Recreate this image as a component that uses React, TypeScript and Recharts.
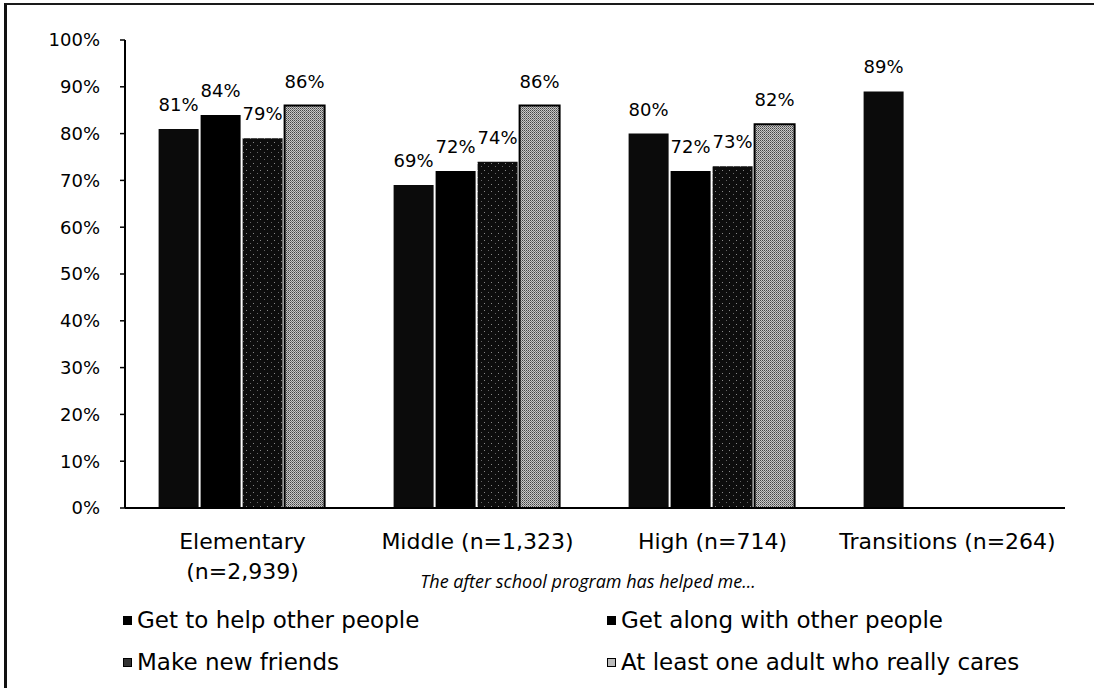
import { BarChart, Bar, XAxis, YAxis, LabelList } from "recharts";

const CATEGORIES = ["Elementary\n(n=2,939)", "Middle (n=1,323)", "High (n=714)", "Transitions (n=264)"];
const HELP_OTHERS = [81, 69, 80, 89];
const GET_ALONG = [84, 72, 72, null];
const NEW_FRIENDS = [79, 74, 73, null];
const CARING_ADULT = [86, 86, 82, null];
const Y_TICKS = [0, 10, 20, 30, 40, 50, 60, 70, 80, 90, 100];
const EDGE_TICKS = [0, 1, 2, 3, 4];
const SUBTITLE = "The after school program has helped me...";

const SERIES = [
  { key: "help", name: "Get to help other people", fill: "#0b0b0b" },
  { key: "along", name: "Get along with other people", fill: "#000000" },
  { key: "friends", name: "Make new friends", fill: "url(#speckle)" },
  { key: "adult", name: "At least one adult who really cares", fill: "url(#halftone)" },
];

const data = CATEGORIES.map((c, i) => ({
  category: c,
  help: HELP_OTHERS[i],
  along: GET_ALONG[i],
  friends: NEW_FRIENDS[i],
  adult: CARING_ADULT[i],
}));

const FONT = "'DejaVu Sans', Verdana, sans-serif";

function CategoryTick(props: any) {
  const { x, y, payload } = props;
  const lines = String(payload.value).split("\n");
  return (
    <text x={x} y={y} textAnchor="middle" fontFamily={FONT} fontSize={22} fill="#000">
      {lines.map((l, i) => (
        <tspan key={i} x={x} dy={i === 0 ? 41 : 30}>
          {l}
        </tspan>
      ))}
    </text>
  );
}

const pct = (v: any) => (v == null ? "" : `${v}%`);

export default function App() {
  return (
    <div style={{ position: "absolute", left: 0, top: 0, width: 1094, height: 688, background: "#fff" }}>
      <div
        style={{
          position: "absolute",
          left: 4,
          top: 3,
          right: 0,
          bottom: 0,
          borderTop: "2px solid #1a1a1a",
          borderLeft: "3px solid #111",
        }}
      />
      <div style={{ position: "absolute", left: 0, top: 0 }}>
        <BarChart
          width={1094}
          height={688}
          data={data}
          margin={{ top: 40, right: 29, left: 0, bottom: 100 }}
          barCategoryGap="14.3%"
          barGap={2}
        >
          <defs>
            <pattern id="speckle" width="7" height="7" patternUnits="userSpaceOnUse">
              <rect width="7" height="7" fill="#0d0d0d" />
              <rect x="1" y="2" width="1" height="1" fill="#888" />
              <rect x="5" y="5" width="1" height="1" fill="#666" />
            </pattern>
            <pattern id="halftone" width="2" height="2" patternUnits="userSpaceOnUse">
              <rect width="2" height="2" fill="#c8c8c8" />
              <rect width="1" height="1" fill="#444" />
              <rect x="1" y="1" width="1" height="1" fill="#777" />
            </pattern>
          </defs>
          <XAxis
            xAxisId="edge"
            type="number"
            domain={[0, 4]}
            ticks={EDGE_TICKS}
            tick={false}
            axisLine={false}
            tickLine={{ stroke: "#000", strokeWidth: 1.5 }}
            tickSize={5}
            height={0}
            allowDataOverflow
          />
          <XAxis
            xAxisId="cat"
            dataKey="category"
            interval={0}
            height={80}
            tickSize={0}
            tickMargin={0}
            tickLine={false}
            axisLine={{ stroke: "#000", strokeWidth: 2 }}
            tick={<CategoryTick />}
            label={{
              value: SUBTITLE,
              position: "insideBottom",
              offset: 0,
              dx: -7,
              style: { fontFamily: "'Open Sans', sans-serif", fontStyle: "italic", fontSize: 18, fill: "#000" },
            }}
          />
          <YAxis
            domain={[0, 100]}
            ticks={Y_TICKS}
            width={125}
            tickFormatter={(v) => `${v}%`}
            tickSize={5}
            tickMargin={20}
            tick={{ fontFamily: FONT, fontSize: 18, fill: "#000" }}
            axisLine={{ stroke: "#000", strokeWidth: 2 }}
            tickLine={{ stroke: "#000", strokeWidth: 1.5 }}
          />
          {SERIES.map((s) => (
            <Bar
              key={s.key}
              xAxisId="cat"
              dataKey={s.key}
              name={s.name}
              fill={s.fill}
              stroke="#000"
              strokeWidth={s.key === "adult" ? 2 : 0}
              isAnimationActive={false}
            >
              <LabelList
                dataKey={s.key}
                position="top"
                offset={18}
                formatter={pct}
                style={{ fontFamily: FONT, fontSize: 18, fill: "#000" }}
              />
            </Bar>
          ))}
        </BarChart>
      </div>
      {SERIES.map((s, i) => (
        <div
          key={s.key}
          style={{
            position: "absolute",
            left: i % 2 === 0 ? 123 : 607,
            top: i < 2 ? 606 : 648,
            height: 28,
            display: "flex",
            alignItems: "center",
            fontFamily: FONT,
            fontSize: 23,
            color: "#000",
            whiteSpace: "nowrap",
          }}
        >
          <span
            style={{
              display: "inline-block",
              width: 7,
              height: 7,
              marginRight: 5,
              background: s.key === "adult" ? "#bbb" : s.key === "friends" ? "#333" : "#000",
              border: "1px solid #000",
            }}
          />
          {s.name}
        </div>
      ))}
    </div>
  );
}
